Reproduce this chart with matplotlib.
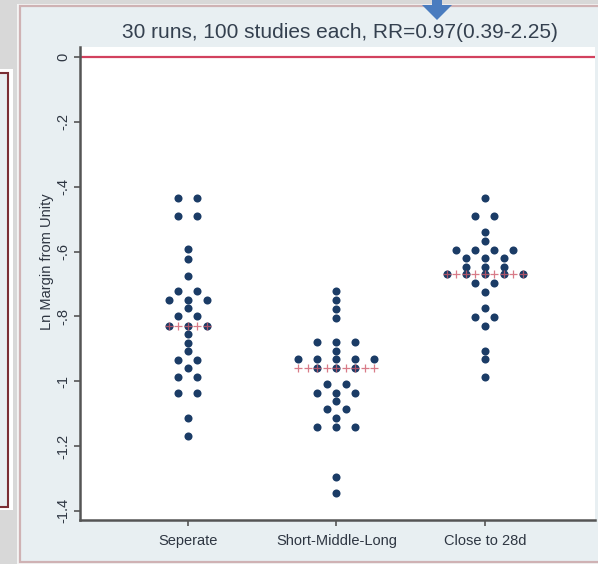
import numpy as np
import matplotlib
matplotlib.use("Agg")
import matplotlib.pyplot as plt
from matplotlib.patches import Rectangle, Polygon

plt.rcParams['font.family'] = ['Liberation Sans', 'DejaVu Sans']

# values (ln margin from unity), 30 runs per group
groups = ['Seperate', 'Short-Middle-Long', 'Close to 28d']

seperate = [-0.436, -0.436, -0.489, -0.489, -0.593, -0.623, -0.674,
            -0.722, -0.722, -0.749, -0.749, -0.749, -0.775, -0.799, -0.799,
            -0.829, -0.829, -0.829, -0.854, -0.881, -0.908, -0.934, -0.934,
            -0.960, -0.986, -0.986, -1.035, -1.035, -1.114, -1.168]

short_middle_long = [-0.722, -0.749, -0.777, -0.804, -0.880, -0.880, -0.880,
                     -0.907, -0.932, -0.932, -0.932, -0.932, -0.932,
                     -0.960, -0.960, -0.960, -1.009, -1.009,
                     -1.037, -1.037, -1.037, -1.061, -1.086, -1.086,
                     -1.112, -1.140, -1.140, -1.140, -1.296, -1.345]

close_28d = [-0.436, -0.489, -0.489, -0.541, -0.567,
             -0.595, -0.595, -0.595, -0.595, -0.621, -0.621, -0.621,
             -0.647, -0.647, -0.647, -0.670, -0.670, -0.670, -0.670, -0.670,
             -0.698, -0.698, -0.724, -0.775, -0.801, -0.801, -0.829,
             -0.906, -0.932, -0.986]

medians = [-0.829, -0.960, -0.670]

yticks = [0, -0.2, -0.4, -0.6, -0.8, -1.0, -1.2, -1.4]
ytick_labels = ['0', '-.2', '-.4', '-.6', '-.8', '-1', '-1.2', '-1.4']

title = '30 runs, 100 studies each, RR=0.97(0.39-2.25)'

W, H = 598, 564
fig = plt.figure(figsize=(W / 100, H / 100), dpi=100)
fig.patch.set_facecolor('#d8d8d8')


def px(x, y):
    return x / W, 1 - y / H


# screenshot framing (kept behind the axes)
def frect(x0, y0, x1, y1, **kw):
    fx, fy = px(x0, y1)
    fig.patches.append(Rectangle((fx, fy), (x1 - x0) / W, (y1 - y0) / H,
                                 transform=fig.transFigure, zorder=-5, **kw))


frect(17, 4, 600, 566, facecolor='#f4f4f4', edgecolor='none')
frect(20, 6, 600, 562, facecolor='#e8eff2', edgecolor='#cfb2b4', lw=1.6)
frect(-5, 69, 13, 510, facecolor='white', edgecolor='none')
frect(-5, 73, 8, 507, facecolor='#e8eff2', edgecolor='#7a2f35', lw=1.5)

# blue arrow
arrow = [(432, 0), (442, 0), (442, 5), (452, 5), (437, 20), (422, 5), (432, 5)]
fig.patches.append(Polygon([px(x, y) for x, y in arrow], closed=True,
                           transform=fig.transFigure, facecolor='#4a7cbf',
                           edgecolor='none', zorder=5))

l, b = px(80, 520)
r, t = px(595, 47)
ax = fig.add_axes([l, b, r - l, t - b])
ax.set_facecolor('white')

step = 0.128
dot_color = '#1b3c66'
for i, vals in enumerate([seperate, short_middle_long, close_28d]):
    xc = i + 1
    uniq, counts = np.unique(vals, return_counts=True)
    xs, ys = [], []
    for v, n in zip(uniq, counts):
        offs = (np.arange(n) - (n - 1) / 2) * step
        xs.extend(xc + offs)
        ys.extend([v] * n)
    ax.plot(xs, ys, 'o', color=dot_color, markersize=5.8, mew=0, zorder=3)
    # median crosses across the widest row
    half = (counts.max() - 1) / 2
    cx = xc + np.arange(-half, half + 0.01, 0.5) * step
    ax.plot(cx, [medians[i]] * len(cx), '+', color='#cf5a6a', markersize=6,
            mew=0.9, zorder=4, alpha=0.8)

ax.axhline(0, color='#d2415e', lw=1.6, zorder=2)

ax.set_xlim(0.273, 3.741)
ax.set_ylim(-1.428, 0.031)
ax.set_xticks([1, 2, 3])
ax.set_xticklabels(groups, fontsize=10.5, color='#2e3642')
ax.set_yticks(yticks)
ax.set_yticklabels(ytick_labels, fontsize=10.5, color='#2e3642', rotation=90,
                   va='center')
ax.tick_params(axis='y', length=4, width=1.2, color='#555555', pad=3)
ax.tick_params(axis='x', length=4, width=1.2, color='#555555', pad=6)
for s in ['top', 'right']:
    ax.spines[s].set_visible(False)
for s in ['left', 'bottom']:
    ax.spines[s].set_color('#555555')
    ax.spines[s].set_linewidth(1.8)

ax.set_ylabel('Ln Margin from Unity', fontsize=10.5, color='#2e3642')
lx, ly = px(54, 262)
ax.yaxis.set_label_coords(lx, ly, transform=fig.transFigure)

tx, ty = px(340, 33)
fig.text(tx, ty, title, fontsize=15, color='#34404f', ha='center',
         va='center')

fig.savefig('out.png', dpi=100, facecolor=fig.get_facecolor())
